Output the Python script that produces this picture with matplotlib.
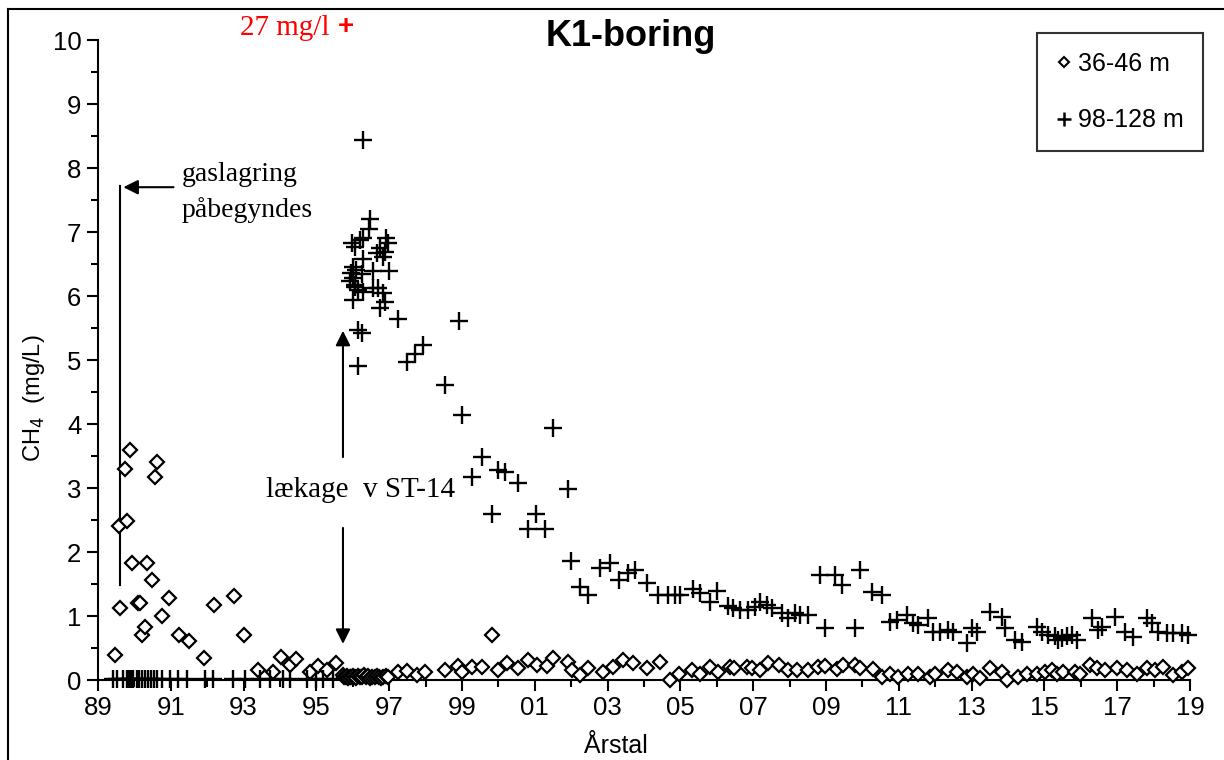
import matplotlib
matplotlib.use("Agg")
import matplotlib.pyplot as plt
from matplotlib.lines import Line2D

plt.rcParams['font.family'] = ['Liberation Sans', 'DejaVu Sans']

# 36-46 m (diamonds)
shallow_year = [1989.47, 1989.6, 1989.58, 1989.74, 1989.88, 1989.8, 1989.93, 1990.1, 1990.15, 1990.2,
                1990.3, 1990.35, 1990.48, 1990.57, 1990.62, 1990.76, 1990.95, 1991.23, 1991.5, 1991.9,
                1992.2, 1992.74, 1993.0, 1993.4, 1993.8, 1994.03, 1994.27, 1994.44, 1994.82, 1995.04,
                1995.3, 1995.54,
                1995.72, 1995.76, 1995.8, 1995.84, 1995.88, 1995.92, 1995.96, 1996.0, 1996.05, 1996.1,
                1996.15, 1996.2, 1996.25, 1996.3, 1996.36, 1996.42, 1996.48, 1996.54, 1996.6, 1996.66,
                1996.72, 1996.78, 1996.84, 1996.9, 1996.96,
                1997.25, 1997.48, 1997.75, 1997.98, 1998.53, 1998.9, 1998.99, 1999.27, 1999.54, 1999.82,
                2000.0, 2000.23, 2000.55, 2000.82, 2001.05, 2001.33, 2001.51, 2001.92, 2002.01, 2002.24,
                2002.47, 2002.88, 2003.16, 2003.43, 2003.71, 2004.07, 2004.44, 2004.72, 2004.95, 2005.31,
                2005.54, 2005.82, 2006.04, 2006.37, 2006.46, 2006.82, 2006.96, 2007.2, 2007.42, 2007.7,
                2007.96, 2008.19, 2008.51, 2008.79, 2008.97, 2009.29, 2009.48, 2009.8, 2009.93, 2010.3,
                2010.53, 2010.76, 2010.99, 2011.26, 2011.54, 2011.86, 2011.99, 2012.36, 2012.59, 2012.87,
                2013.05, 2013.23, 2013.51, 2013.83, 2013.96, 2014.28, 2014.51, 2014.79, 2015.02, 2015.2,
                2015.34, 2015.52, 2015.84, 2015.98, 2016.25, 2016.44, 2016.66, 2016.99, 2017.26, 2017.54,
                2017.81, 2018.04, 2018.27, 2018.54, 2018.77, 2018.95]
shallow_val = [0.39, 1.12, 2.4, 3.29, 3.6, 2.48, 1.83, 1.2, 1.2, 0.7,
               0.83, 1.83, 1.56, 3.17, 3.4, 1.0, 1.28, 0.7, 0.61, 0.34,
               1.17, 1.31, 0.7, 0.16, 0.13, 0.36, 0.23, 0.33, 0.13, 0.22,
               0.16, 0.26,
               0.08, 0.05, 0.04, 0.06, 0.03, 0.05, 0.04, 0.07, 0.05, 0.03,
               0.06, 0.04, 0.05, 0.08, 0.04, 0.06, 0.03, 0.05, 0.04, 0.06,
               0.05, 0.03, 0.04, 0.06, 0.05,
               0.13, 0.14, 0.08, 0.13, 0.16, 0.22, 0.13, 0.2, 0.2, 0.7,
               0.16, 0.26, 0.18, 0.32, 0.23, 0.22, 0.35, 0.28, 0.16, 0.08,
               0.18, 0.12, 0.2, 0.32, 0.27, 0.19, 0.28, 0.0, 0.1, 0.16,
               0.1, 0.2, 0.13, 0.2, 0.18, 0.2, 0.18, 0.16, 0.26, 0.23,
               0.16, 0.16, 0.16, 0.21, 0.22, 0.17, 0.23, 0.23, 0.18, 0.17,
               0.05, 0.1, 0.05, 0.1, 0.1, 0.05, 0.1, 0.16, 0.13, 0.05,
               0.1, 0.03, 0.18, 0.13, 0.0, 0.05, 0.1, 0.1, 0.13, 0.16,
               0.1, 0.13, 0.13, 0.1, 0.23, 0.18, 0.16, 0.18, 0.16, 0.1,
               0.18, 0.16, 0.21, 0.08, 0.13, 0.18]

# 98-128 m (plus)
deep_year = [1989.41, 1989.51, 1989.69, 1989.79, 1989.85, 1989.9, 1989.96, 1990.06, 1990.14, 1990.22,
             1990.3, 1990.38, 1990.46, 1990.54, 1990.61, 1990.75, 1990.98, 1991.2, 1991.44, 1991.94,
             1992.17, 1992.72, 1993.04, 1993.45, 1993.73, 1994.08, 1994.27, 1994.73, 1995.0, 1995.18,
             1995.46,
             1996.28, 1996.47, 1996.44, 1996.28, 1996.2, 1995.98, 1996.06, 1996.9, 1996.97, 1996.75,
             1996.88, 1996.83, 1996.66, 1996.28, 1996.0, 1996.1, 1995.95, 1996.0, 1995.92, 1996.06,
             1996.55, 1997.0, 1996.25, 1996.06, 1996.15, 1996.28, 1996.0, 1996.55, 1996.7, 1996.83,
             1996.88, 1996.75, 1997.24, 1996.15, 1996.26, 1996.15,
             1997.5, 1997.7, 1997.93, 1998.53, 1998.92, 1999.0, 1999.27, 1999.55, 1999.82, 1999.99,
             2000.18, 2000.54, 2000.8, 2001.03, 2001.28, 2001.5, 2001.9, 2002.0, 2002.24, 2002.46,
             2002.8, 2003.07, 2003.3, 2003.56, 2003.75, 2004.08, 2004.38, 2004.65, 2004.85, 2005.0,
             2005.35, 2005.54, 2005.8, 2006.0, 2006.31, 2006.45, 2006.64, 2006.86, 2007.05, 2007.19,
             2007.38, 2007.52, 2007.8, 2007.96, 2008.15, 2008.29, 2008.5, 2008.84, 2008.97, 2009.25,
             2009.44, 2009.8, 2009.93, 2010.26, 2010.54, 2010.76, 2010.95, 2011.23, 2011.39, 2011.53,
             2011.8, 2011.94, 2012.13, 2012.35, 2012.49, 2012.87, 2013.01, 2013.15, 2013.51, 2013.84,
             2013.92, 2014.19, 2014.38, 2014.8, 2014.93, 2015.1, 2015.29, 2015.37, 2015.48, 2015.62,
             2015.76, 2015.9, 2016.31, 2016.47, 2016.58, 2016.94, 2017.21, 2017.43, 2017.82, 2017.96,
             2018.12, 2018.37, 2018.53, 2018.78, 2018.95]
deep_val = [0.02] * 31 + [
            8.44, 7.2, 7.05, 6.9, 6.88, 6.83, 6.77, 6.9, 6.83, 6.75,
            6.69, 6.61, 6.67, 6.58, 6.45, 6.4, 6.36, 6.28, 6.23, 6.17,
            6.39, 6.39, 6.34, 6.14, 6.09, 6.06, 5.94, 6.12, 6.12, 6.05,
            5.9, 5.81, 5.64, 5.47, 5.42, 4.9,
            4.97, 5.1, 5.23, 4.61, 5.61, 4.14, 3.17, 3.49, 2.6, 3.28,
            3.25, 3.08, 2.36, 2.6, 2.36, 3.94, 2.98, 1.86, 1.45, 1.33,
            1.75, 1.83, 1.56, 1.67, 1.72, 1.52, 1.33, 1.33, 1.33, 1.33,
            1.42, 1.36, 1.22, 1.39, 1.16, 1.12, 1.09, 1.09, 1.14, 1.22,
            1.17, 1.12, 1.05, 0.97, 1.05, 1.02, 1.02, 1.64, 0.81, 1.64,
            1.48, 0.81, 1.72, 1.38, 1.33, 0.91, 0.94, 1.02, 0.89, 0.86,
            0.97, 0.75, 0.75, 0.78, 0.75, 0.58, 0.81, 0.75, 1.06, 0.98,
            0.81, 0.63, 0.6, 0.83, 0.75, 0.7, 0.68, 0.63, 0.66, 0.68,
            0.7, 0.63, 0.97, 0.78, 0.83, 0.98, 0.75, 0.67, 0.97, 0.89,
            0.75, 0.73, 0.73, 0.73, 0.7]

year_ticks = list(range(1989, 2020, 2))
year_labels = [f"{y % 100:02d}" for y in year_ticks]

fig = plt.figure(figsize=(12.24, 7.6), dpi=100)
ax = fig.add_axes([98 / 1224, 1 - 680 / 760, (1190 - 98) / 1224, 640 / 760])

ax.plot(shallow_year, shallow_val, linestyle='none', marker='D', ms=7.2, mfc='white',
        mec='black', mew=1.6, clip_on=False, zorder=3)
ax.plot(deep_year, deep_val, linestyle='none', marker='+', ms=12.5, mec='black',
        mew=1.7, clip_on=False, zorder=4)

ax.set_xlim(1989, 2019)
ax.set_ylim(0, 10)
ax.set_xticks(year_ticks)
ax.set_xticklabels(year_labels)
ax.set_xticks(range(1990, 2019, 2), minor=True)
ax.set_yticks(range(0, 11))
ax.set_yticks([i + 0.5 for i in range(10)], minor=True)
ax.tick_params(axis='both', which='major', direction='out', length=8, width=1.5, labelsize=18.5)
ax.tick_params(axis='both', which='minor', direction='out', length=5, width=1.5)
ax.tick_params(axis='y', pad=4)
for s in ['top', 'right']:
    ax.spines[s].set_visible(False)
for s in ['left', 'bottom']:
    ax.spines[s].set_linewidth(1.5)

ax.set_xlabel("Årstal", fontsize=18)
ax.xaxis.set_label_coords(0.474, -0.085)
ax.set_ylabel("CH$_4$  (mg/L)", fontsize=17)
ax.yaxis.set_label_coords(-0.047, 0.44)

fig.text(631 / 1224, 1 - 36 / 760, "K1-boring", fontsize=26, fontweight='bold',
         ha='center', va='center')

# off-scale point note
fig.text(330 / 1224, 1 - 28 / 760, "27 mg/l", color='red', fontsize=21,
         family='Liberation Serif', ha='right', va='center')
fig.text(346 / 1224, 1 - 27 / 760, "+", color='red', fontsize=20, fontweight='bold',
         ha='center', va='center')

# gas storage start
ax.plot([1989.6, 1989.6], [1.48, 7.72], color='black', lw=1.5, clip_on=False)
ax.annotate("", xy=(1989.62, 7.7), xytext=(1991.15, 7.7),
            arrowprops=dict(arrowstyle='-|>', color='black', lw=1.5, mutation_scale=22))
ax.text(1991.3, 7.62, "gaslagring\npåbegyndes", fontsize=20, family='Liberation Serif',
        ha='left', va='center', linespacing=1.5)

# leakage
ax.annotate("", xy=(1995.73, 5.5), xytext=(1995.73, 3.44),
            arrowprops=dict(arrowstyle='-|>', color='black', lw=1.5, mutation_scale=22))
ax.annotate("", xy=(1995.73, 0.52), xytext=(1995.73, 2.42),
            arrowprops=dict(arrowstyle='-|>', color='black', lw=1.5, mutation_scale=22))
ax.text(1996.2, 2.97, "lækage  v ST-14", fontsize=21, family='Liberation Serif',
        ha='center', va='center')

handles = [Line2D([], [], linestyle='none', marker='D', ms=5, mfc='white', mec='black', mew=1.5),
           Line2D([], [], linestyle='none', marker='+', ms=10, mec='black', mew=1.8)]
leg = fig.legend(handles, ["36-46 m", "98-128 m"], loc='upper right',
                 bbox_to_anchor=(1203 / 1224, 1 - 33 / 760), frameon=True, fancybox=False,
                 edgecolor='black', fontsize=18, borderpad=0.75, labelspacing=1.3,
                 handlelength=0.6, handletextpad=0.3, borderaxespad=0)
leg.get_frame().set_linewidth(1.5)

# outer frame (left and top edges)
fig.add_artist(Line2D([8 / 1224, 8 / 1224], [0, 1 - 9 / 760], color='black', lw=1.5,
                      transform=fig.transFigure))
fig.add_artist(Line2D([8 / 1224, 1], [1 - 9 / 760, 1 - 9 / 760], color='black', lw=1.5,
                      transform=fig.transFigure))

fig.savefig("out.png", dpi=100)
